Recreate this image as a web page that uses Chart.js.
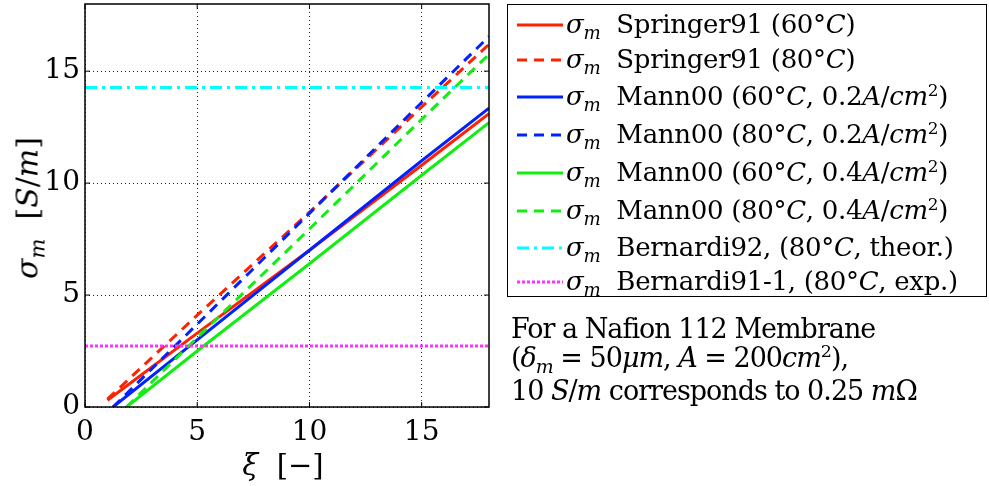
<!DOCTYPE html>
<html lang="en">

<head>
    <meta charset="UTF-8">
    <title>Membrane conductivity</title>
    <script src="https://cdn.jsdelivr.net/npm/chart.js"></script>
    <style>
        body {
            margin: 0;
            background: #fff;
            font-family: "DejaVu Serif", serif;
        }

        #wrap {
            position: relative;
            width: 989px;
            height: 486px;
        }

        .math {
            font-style: italic;
        }

        .sub {
            font-size: 70%;
            position: relative;
            top: 0.32em;
            font-style: italic;
        }

        .sup {
            font-size: 65%;
            position: relative;
            top: -0.55em;
        }

        #ytitle {
            position: absolute;
            left: 27px;
            top: 208px;
            transform: translate(-50%, -50%) rotate(-90deg);
            font-size: 30px;
            white-space: nowrap;
        }

        #xtitle {
            position: absolute;
            left: 283px;
            top: 465px;
            transform: translate(-50%, -50%);
            font-size: 29px;
            white-space: nowrap;
        }

        #legend {
            position: absolute;
            left: 507px;
            top: 4px;
            width: 480px;
            height: 293px;
            border: 1.5px solid #000;
            box-sizing: border-box;
        }

        .row {
            position: absolute;
            left: 0;
            height: 36px;
            line-height: 36px;
            font-size: 26px;
            letter-spacing: -0.3px;
            white-space: nowrap;
        }

        .row svg {
            position: absolute;
            left: 9px;
            top: 16px;
        }

        .row span.txt {
            position: absolute;
            left: 58px;
            top: 0;
        }

        #note {
            position: absolute;
            left: 511px;
            top: 314px;
            font-size: 27px;
            line-height: 29px;
            letter-spacing: -1px;
            white-space: nowrap;
        }
    </style>
</head>

<body>
    <div id="wrap">
        <canvas id="c" width="989" height="486"></canvas>
        <div id="ytitle"><span class="math">σ</span><span class="sub">m</span>&nbsp; [<span class="math">S</span>/<span class="math">m</span>]</div>
        <div id="xtitle"><span class="math">ξ</span>&nbsp; [−]</div>
        <div id="legend"></div>
        <div id="note">
            For a Nafion 112 Membrane<br>
            (<span class="math">δ</span><span class="sub">m</span> = 50<span class="math">μm</span>, <span class="math">A</span> = 200<span class="math">cm</span><span class="sup">2</span>),<br>
            10 <span class="math">S</span>/<span class="math">m</span> corresponds to 0.25 <span class="math">m</span>Ω
        </div>
    </div>

    <script>
        // values
        const xSpringer = [1, 5, 10, 15, 18];
        const springer60 = [0.3, 3.3, 7.0, 10.8, 13.1];
        const springer80 = [0.35, 4.1, 8.7, 13.4, 16.2];

        const xMann02 = [1.25, 5, 10, 15, 18];
        const mann60_02 = [0, 3.0, 7.0, 11.0, 13.35];
        const mann80_02 = [0, 3.7, 8.65, 13.6, 16.55];

        const xMann04 = [1.85, 5, 10, 15, 18];
        const mann60_04 = [0, 2.5, 6.4, 10.35, 12.7];
        const mann80_04 = [0, 3.1, 7.95, 12.85, 15.75];

        const xFlat = [0, 18];
        const bernardi92 = [14.27, 14.27];
        const bernardi91 = [2.72, 2.72];

        const xTicks = [0, 5, 10, 15];
        const yTicks = [0, 5, 10, 15];

        const legendLabels = [
            'Springer91 (60°<i>C</i>)',
            'Springer91 (80°<i>C</i>)',
            'Mann00 (60°<i>C</i>, 0.2<i>A</i>/<i>cm</i><span class="sup">2</span>)',
            'Mann00 (80°<i>C</i>, 0.2<i>A</i>/<i>cm</i><span class="sup">2</span>)',
            'Mann00 (60°<i>C</i>, 0.4<i>A</i>/<i>cm</i><span class="sup">2</span>)',
            'Mann00 (80°<i>C</i>, 0.4<i>A</i>/<i>cm</i><span class="sup">2</span>)',
            'Bernardi92, (80°<i>C</i>, theor.)',
            'Bernardi91-1, (80°<i>C</i>, exp.)'
        ];

        const RED = '#ff2200', BLUE = '#0022ff', GREEN = '#11ee11', CYAN = '#00ffff', MAGENTA = '#ff33ff';
        const DASH = [10, 7], DASHDOT = [12, 5, 3, 5], DOT = [3, 2];

        function pts(xs, ys) {
            return xs.map((x, i) => ({ x: x, y: ys[i] }));
        }

        const series = [
            { data: pts(xSpringer, springer60), color: RED, dash: [] },
            { data: pts(xSpringer, springer80), color: RED, dash: DASH },
            { data: pts(xMann02, mann60_02), color: BLUE, dash: [] },
            { data: pts(xMann02, mann80_02), color: BLUE, dash: DASH },
            { data: pts(xMann04, mann60_04), color: GREEN, dash: [] },
            { data: pts(xMann04, mann80_04), color: GREEN, dash: DASH },
            { data: pts(xFlat, bernardi92), color: CYAN, dash: DASHDOT },
            { data: pts(xFlat, bernardi91), color: MAGENTA, dash: DOT }
        ];

        // legend (html so the sub/superscripts stay as text)
        const rowCenters = [23, 58, 95, 133, 171, 209, 246, 280];
        const legend = document.getElementById('legend');
        series.forEach((s, i) => {
            const row = document.createElement('div');
            row.className = 'row';
            row.style.top = (rowCenters[i] - 4 - 18) + 'px';
            row.innerHTML =
                '<svg width="46" height="6"><line x1="0" y1="3" x2="46" y2="3" stroke="' + s.color +
                '" stroke-width="3" stroke-dasharray="' + (s.dash.length ? s.dash.join(' ') : 'none') + '"/></svg>' +
                '<span class="txt"><i>σ</i><span class="sub">m</span>&nbsp; ' + legendLabels[i] + '</span>';
            legend.appendChild(row);
        });

        // box + inward ticks like matlab
        const framePlugin = {
            id: 'frame',
            afterDraw(chart) {
                const ctx = chart.ctx, a = chart.chartArea;
                const sx = chart.scales.x, sy = chart.scales.y;
                ctx.save();
                ctx.strokeStyle = '#000';
                ctx.lineWidth = 1;
                ctx.beginPath();
                xTicks.forEach(v => {
                    const p = sx.getPixelForValue(v);
                    ctx.moveTo(p, a.bottom); ctx.lineTo(p, a.bottom - 5);
                    ctx.moveTo(p, a.top); ctx.lineTo(p, a.top + 5);
                });
                yTicks.forEach(v => {
                    const p = sy.getPixelForValue(v);
                    ctx.moveTo(a.left, p); ctx.lineTo(a.left + 5, p);
                    ctx.moveTo(a.right, p); ctx.lineTo(a.right - 5, p);
                });
                ctx.stroke();
                ctx.lineWidth = 1.5;
                ctx.strokeRect(a.left, a.top, a.right - a.left, a.bottom - a.top);
                ctx.restore();
            }
        };

        const tickFont = { family: '"DejaVu Serif", serif', size: 28 };

        new Chart(document.getElementById('c'), {
            type: 'line',
            data: {
                datasets: series.map((s, i) => ({
                    data: s.data,
                    borderColor: s.color,
                    backgroundColor: s.color,
                    borderWidth: 3,
                    borderDash: s.dash,
                    pointRadius: 0,
                    fill: false,
                    tension: 0,
                    order: -i
                }))
            },
            options: {
                responsive: false,
                animation: false,
                layout: { padding: { left: 0, top: 4, right: 500, bottom: 0 } },
                plugins: {
                    legend: { display: false },
                    tooltip: { enabled: false }
                },
                scales: {
                    x: {
                        type: 'linear',
                        min: 0,
                        max: 18,
                        afterBuildTicks: s => { s.ticks = xTicks.map(v => ({ value: v })); },
                        afterFit: s => { s.height = 79; s.paddingLeft = 0; s.paddingRight = 0; },
                        ticks: { color: '#000', font: tickFont, padding: 9, maxRotation: 0 },
                        grid: { color: '#222', lineWidth: 1, drawTicks: false },
                        border: { display: false, dash: [1, 3] }
                    },
                    y: {
                        type: 'linear',
                        min: 0,
                        max: 18,
                        afterBuildTicks: s => { s.ticks = yTicks.map(v => ({ value: v })); },
                        afterFit: s => { s.width = 85; s.paddingTop = 0; s.paddingBottom = 0; },
                        ticks: { color: '#000', font: tickFont, padding: 5 },
                        grid: { color: '#222', lineWidth: 1, drawTicks: false },
                        border: { display: false, dash: [1, 3] }
                    }
                }
            },
            plugins: [framePlugin]
        });
    </script>
</body>

</html>
